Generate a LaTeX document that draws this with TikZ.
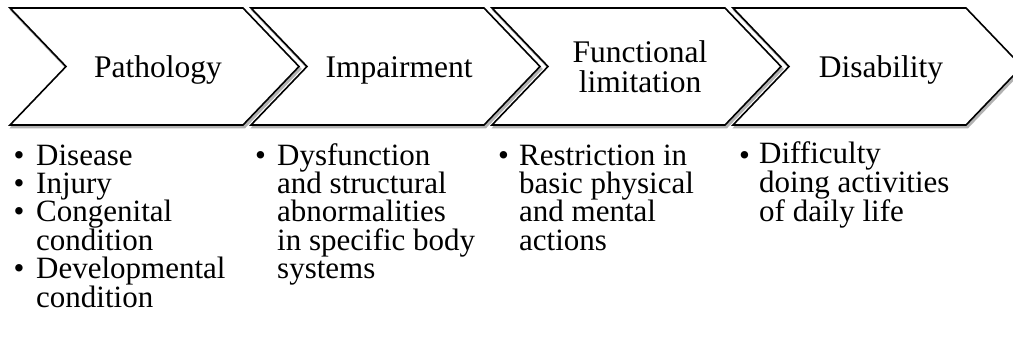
\documentclass[tikz,border=0pt]{standalone}
\usepackage{fontspec}
\setmainfont{Liberation Serif}
\begin{document}
\begin{tikzpicture}[x=1pt,y=-1pt,
  chevron/.style={draw=black,line width=1.6pt,fill=white,line join=miter},
  chevshadow/.style={fill=black!30,draw=black!30,line width=1.8pt},
  head/.style={font=\fontsize{31.5}{30.5}\selectfont,align=center,anchor=base,inner sep=0pt},
  bul/.style={font=\fontsize{31}{28.4}\selectfont,anchor=base west,inner sep=0pt},
  item/.style={font=\fontsize{31}{28.4}\selectfont,align=left,anchor=base west,inner sep=0pt}]
\clip (0,0) rectangle (1013,354);
\fill[white] (0,0) rectangle (1013,354);
% four chevrons, each with a soft drop shadow
\foreach \L in {10,251,492,733} {
  \path[chevshadow,shift={(1.5,2.5)}] (\L,8) -- ++(233,0) -- ++(56,58.5) -- ++(-56,58.5)
        -- ++(-233,0) -- ++(56,-58.5) -- cycle;
  \path[chevron] (\L,8) -- ++(233,0) -- ++(56,58.5) -- ++(-56,58.5)
        -- ++(-233,0) -- ++(56,-58.5) -- cycle;
}
% stage titles (multi-line nodes are placed by the baseline of their last line)
\node[head] (pathology)  at (158,77) {Pathology};
\node[head] (impairment) at (399,77) {Impairment};
\node[head] (functional) at (640,92.5) {Functional\\limitation};
\node[head] (disability) at (881,77) {Disability};
% column 1
\node[bul]  (b1a) at (13.5,165)   {•};
\node[item] (t1a) at (36,165)     {Disease};
\node[bul]  (b1b) at (13.5,193.4) {•};
\node[item] (t1b) at (36,193.4)   {Injury};
\node[bul]  (b1c) at (13.5,221.8) {•};
\node[item] (t1c) at (36,250.2)   {Congenital\\condition};
\node[bul]  (b1d) at (13.5,278.6) {•};
\node[item] (t1d) at (36,307)     {Developmental\\condition};
% column 2
\node[bul]  (b2a) at (255,165) {•};
\node[item] (t2a) at (277,278.6) {Dysfunction\\and structural\\abnormalities\\in specific body\\systems};
% column 3
\node[bul]  (b3a) at (498,165) {•};
\node[item] (t3a) at (519,250.2) {Restriction in\\basic physical\\and mental\\actions};
% column 4
\node[bul]  (b4a) at (739,165) {•};
\node[item] (t4a) at (759,221.8) {Difficulty\\doing activities\\of daily life};
\end{tikzpicture}
\end{document}
